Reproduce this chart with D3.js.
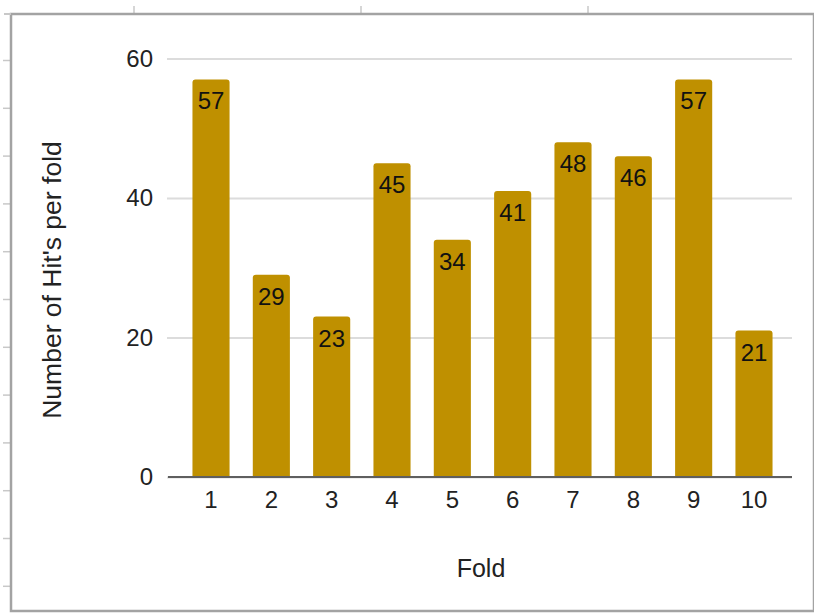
<!DOCTYPE html>
<html>
<head>
<meta charset="utf-8">
<script src="https://cdn.jsdelivr.net/npm/d3@7"></script>
<style>
  html, body { margin: 0; padding: 0; background: #fff; }
  svg { display: block; font-family: "Liberation Sans", Arial, sans-serif; }
</style>
</head>
<body>
<svg id="chart" width="814" height="613"></svg>
<script>
// Hits per cross-validation fold
const folds = ["1", "2", "3", "4", "5", "6", "7", "8", "9", "10"];
const hits = [57, 29, 23, 45, 34, 41, 48, 46, 57, 21];
const yTicks = [0, 20, 40, 60];
const xTitle = "Fold";
const yTitle = "Number of Hit's per fold";

const barColor = "#bf9000";
const svg = d3.select("#chart");

// Sheet cell borders behind the chart frame
const sheet = svg.append("g").attr("stroke", "#c8c8c8").attr("stroke-width", 1.5);
sheet.selectAll("line.row").data(d3.range(60.5, 600, 47.8)).join("line")
  .attr("x1", 3).attr("x2", 11).attr("y1", d => d).attr("y2", d => d);
sheet.selectAll("line.col").data(d3.range(134, 814, 227)).join("line")
  .attr("x1", d => d).attr("x2", d => d).attr("y1", 6).attr("y2", 14);

// Chart frame
svg.append("rect")
  .attr("x", 11).attr("y", 14).attr("width", 803).attr("height", 597)
  .attr("fill", "#fff").attr("stroke", "#a3a3a3").attr("stroke-width", 2.5);
svg.append("line").attr("x1", 4).attr("x2", 11).attr("y1", 14).attr("y2", 14)
  .attr("stroke", "#c8c8c8").attr("stroke-width", 2);

const x = d3.scaleBand().domain(folds).range([181, 784])
  .paddingInner(0.385).paddingOuter(0.19);
const y = d3.scaleLinear().domain([0, 60]).range([477, 58.5]);

// Gridlines and value labels on the y axis
const yAxis = d3.axisLeft(y).tickValues(yTicks).tickSize(-(792 - 167)).tickPadding(14);
const gy = svg.append("g").attr("transform", "translate(167,0)").call(yAxis);
gy.select(".domain").remove();
gy.selectAll(".tick line").attr("stroke", "#dcdcdc").attr("stroke-width", 2);
gy.selectAll(".tick text").attr("fill", "#222").attr("font-size", 24)
  .attr("font-family", "Liberation Sans, Arial, sans-serif");

// Bars with rounded tops
const r = 3;
svg.append("g").selectAll("path").data(folds).join("path")
  .attr("fill", barColor)
  .attr("d", (f, i) => {
    const x0 = x(f), w = x.bandwidth(), top = y(hits[i]), base = y(0);
    return `M${x0},${base}V${top + r}Q${x0},${top} ${x0 + r},${top}` +
      `H${x0 + w - r}Q${x0 + w},${top} ${x0 + w},${top + r}V${base}Z`;
  });

// Baseline and category labels
const xAxis = d3.axisBottom(x).tickSize(0).tickPadding(14);
const gx = svg.append("g").attr("transform", "translate(0,477)").call(xAxis);
gx.select(".domain").remove();
gx.selectAll(".tick text").attr("fill", "#222").attr("font-size", 24)
  .attr("font-family", "Liberation Sans, Arial, sans-serif");
svg.append("line").attr("x1", 168).attr("x2", 792).attr("y1", 477).attr("y2", 477)
  .attr("stroke", "#5f5f5f").attr("stroke-width", 2);

// Value labels inside the bar tops
svg.append("g").selectAll("text").data(folds).join("text")
  .attr("x", f => x(f) + x.bandwidth() / 2)
  .attr("y", (f, i) => y(hits[i]) + 30)
  .attr("text-anchor", "middle")
  .attr("font-size", 24).attr("fill", "#111")
  .text((f, i) => hits[i]);

// Axis titles
svg.append("text").attr("x", 481).attr("y", 577).attr("text-anchor", "middle")
  .attr("font-size", 25).attr("fill", "#222").text(xTitle);
svg.append("text").attr("transform", "translate(61,280) rotate(-90)")
  .attr("text-anchor", "middle").attr("font-size", 26.5).attr("fill", "#222").text(yTitle);
</script>
</body>
</html>
